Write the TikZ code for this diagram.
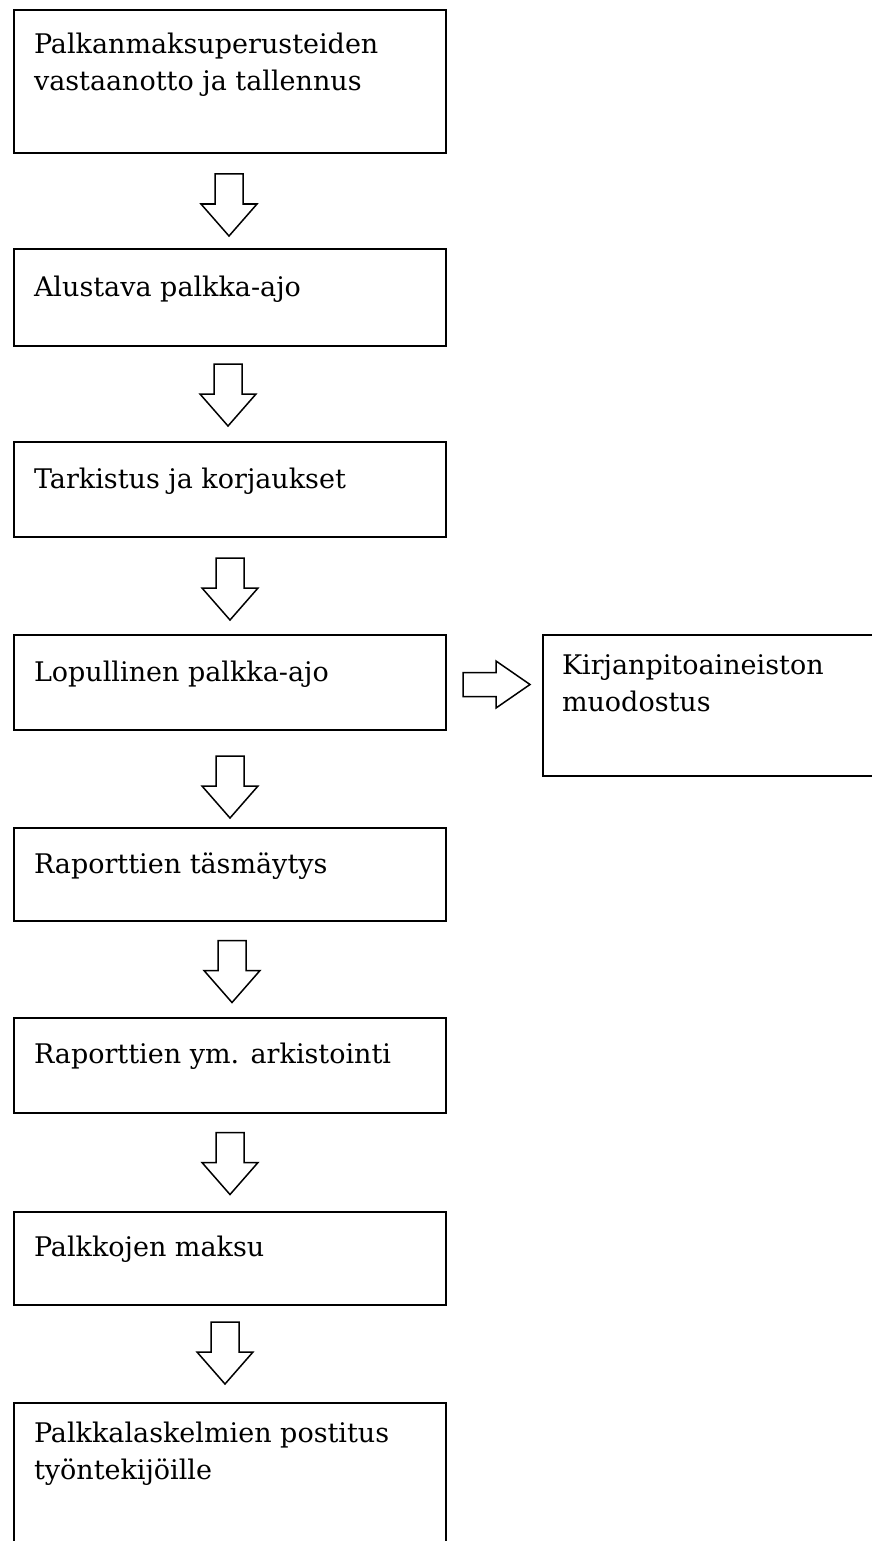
\documentclass[tikz,border=0pt]{standalone}
\usepackage{fontspec}
\setmainfont{DejaVu Serif}
\usetikzlibrary{calc}
\tikzset{
  stepbox/.style={draw=black, line width=2pt, inner sep=0pt, outer sep=0pt, anchor=north west, minimum width=432pt},
  boxtext/.style={anchor=north west, inner sep=0pt, outer sep=0pt, align=left, text=black,
    font=\fontsize{27}{37}\selectfont, execute at begin node={\rule{0pt}{25pt}}},
  arrowline/.style={draw=black, line width=1.5pt, fill=white, line join=miter},
  downarrow/.pic={\path[arrowline] (-14,-31) -- (14,-31) -- (14,-1) -- (28,-1) -- (0,31) -- (-28,-1) -- (-14,-1) -- cycle;},
  rightarrow/.pic={\path[arrowline] (-33.5,-12) -- (-0.5,-12) -- (-0.5,-23.5) -- (33.5,0) -- (-0.5,23.5) -- (-0.5,12) -- (-33.5,12) -- cycle;},
}
\begin{document}
\begin{tikzpicture}[x=1pt,y=-1pt]
\useasboundingbox (0,0) rectangle (872,1541);
\clip (0,0) rectangle (872,1541);
\fill[white] (0,0) rectangle (872,1541);

\node[stepbox, minimum height=143pt] (b1) at (14,10) {};
\node[stepbox, minimum height=97pt]  (b2) at (14,249) {};
\node[stepbox, minimum height=95pt]  (b3) at (14,442) {};
\node[stepbox, minimum height=95pt]  (b4) at (14,635) {};
\node[stepbox, minimum height=93pt]  (b5) at (14,828) {};
\node[stepbox, minimum height=95pt]  (b6) at (14,1018) {};
\node[stepbox, minimum height=93pt]  (b7) at (14,1212) {};
\node[stepbox, minimum height=200pt] (b8) at (14,1403) {};
\node[stepbox, minimum height=141pt, minimum width=400pt] (k) at (543,635) {};

\node[boxtext] (t1) at ($(b1.north west)+(20,23)$) {Palkanmaksuperusteiden\\vastaanotto ja tallennus};
\node[boxtext] (t2) at ($(b2.north west)+(20,22)$) {Alustava palkka-ajo};
\node[boxtext] (t3) at ($(b3.north west)+(20,21)$) {Tarkistus ja korjaukset};
\node[boxtext] (t4) at ($(b4.north west)+(20,21)$) {Lopullinen palkka-ajo};
\node[boxtext] (t5) at ($(b5.north west)+(20,20)$) {Raporttien täsmäytys};
\node[boxtext] (t6) at ($(b6.north west)+(20,20)$) {Raporttien ym. arkistointi};
\node[boxtext] (t7) at ($(b7.north west)+(20,19)$) {Palkkojen maksu};
\node[boxtext] (t8) at ($(b8.north west)+(20,19)$) {Palkkalaskelmien postitus\\työntekijöille};
\node[boxtext] (tk) at ($(k.north west)+(19,20)$) {Kirjanpitoaineiston\\muodostus};

\path ($(b1.south)!0.5!(b2.north)$) ++(-1,4) pic {downarrow};
\path ($(b2.south)!0.5!(b3.north)$) ++(-2,1) pic {downarrow};
\path ($(b3.south)!0.5!(b4.north)$) ++(0,3) pic {downarrow};
\path ($(b4.south)!0.5!(b5.north)$) ++(0,8) pic {downarrow};
\path ($(b5.south)!0.5!(b6.north)$) ++(2,2) pic {downarrow};
\path ($(b6.south)!0.5!(b7.north)$) ++(0,1) pic {downarrow};
\path ($(b7.south)!0.5!(b8.north)$) ++(-5,-1) pic {downarrow};
\path ($(b4.east)!0.5!(k.west |- b4.east)$) ++(2,2) pic {rightarrow};
\end{tikzpicture}
\end{document}
